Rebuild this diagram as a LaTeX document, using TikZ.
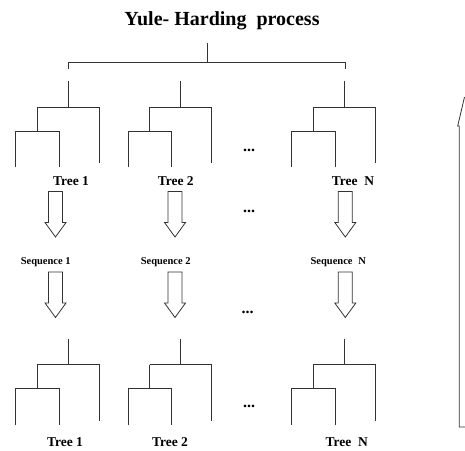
\documentclass[tikz,border=0pt]{standalone}
\usepackage{fontspec}
\setmainfont{Liberation Serif}
\begin{document}
\begin{tikzpicture}[x=1pt,y=-1pt,
  ln/.style={line width=0.8pt, draw=black!80, line join=miter},
  ttl/.style={font=\fontsize{20}{22}\selectfont\bfseries, anchor=base, inner sep=0pt},
  treelbl/.style={font=\fontsize{13.5}{15}\selectfont\bfseries, anchor=base, inner sep=0pt},
  seqlbl/.style={font=\fontsize{10.5}{12}\selectfont\bfseries, anchor=base, inner sep=0pt},
  dotlbl/.style={font=\fontsize{16}{18}\selectfont\bfseries, anchor=base, inner sep=0pt},
  pics/ytree/.style={code={
    \draw[ln] (0,0) -- (0,26)
      (-31,26) -- (31,26) -- (31,82)
      (-31,26) -- (-31,50)
      (-52.6,86) -- (-52.6,50) -- (-9,50) -- (-9,86);
  }},
  pics/barrow/.style={code={
    \draw[ln] (-7,0) -- (7,0) -- (7,31) -- (10.5,31) -- (0,45.5) -- (-10.5,31) -- (-7,31) -- cycle;
  }}
]
\useasboundingbox (0,0) rectangle (465,450);
\clip (0,0) rectangle (465,450);

% title
\node[ttl] (title) at (222,25) {Yule- Harding~~process};

% top bracket
\coordinate (br) at (207,43.3);
\coordinate (brL) at (68.3,62.3);
\coordinate (brR) at (345,62.3);
\draw[ln] (br) -- (207,62.3);
\draw[ln] (68.3,69.3) -- (brL) -- (brR) -- (345,69.3);

% top trees
\pic (tA) at (68.3,81) {ytree};
\pic (tB) at (180.7,81) {ytree};
\pic (tC) at (344.3,81) {ytree};
\node[dotlbl] (d1) at (249,151) {...};

\node[treelbl] (t1) at (71,185) {Tree 1};
\node[treelbl] (t2) at (175.7,185) {Tree 2};
\node[treelbl] (tn) at (353,185) {Tree~~N};

% arrows to sequences
\pic (aA) at (55.5,191.5) {barrow};
\pic (aB) at (175,191.5) {barrow};
\pic (aC) at (345.3,191.5) {barrow};
\node[dotlbl] (d2) at (249,212.8) {...};

\node[seqlbl] (s1) at (45.7,264) {Sequence 1};
\node[seqlbl] (s2) at (165.7,264) {Sequence 2};
\node[seqlbl] (sn) at (338.3,264) {Sequence\hspace{0.55em}N};

% arrows to inferred trees
\pic (bA) at (55.5,272) {barrow};
\pic (bB) at (175,272) {barrow};
\pic (bC) at (345.3,272) {barrow};
\node[dotlbl] (d3) at (247.5,313.8) {...};

% bottom trees
\pic (uA) at (68.3,338.7) {ytree};
\pic (uB) at (180.7,338.7) {ytree};
\pic (uC) at (344.3,338.7) {ytree};
\node[dotlbl] (d4) at (249,407.8) {...};

\node[treelbl] (u1) at (65,446) {Tree 1};
\node[treelbl] (u2) at (170,446) {Tree 2};
\node[treelbl] (un) at (346.7,446) {Tree~~N};

% big arrow at right edge (cut off)
\coordinate (rb) at (466,427);
\coordinate (rt) at (464.5,97);
\draw[ln] (rb) -- (459.3,427) -- (459.3,126) -- (457.7,126) -- (rt);
\end{tikzpicture}
\end{document}
